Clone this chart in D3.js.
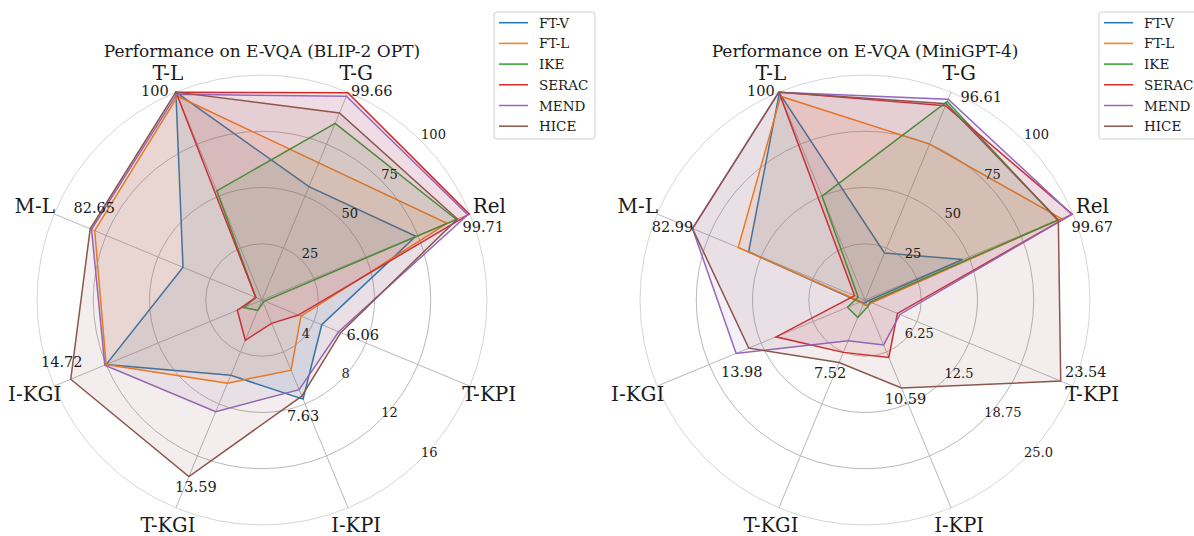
<!DOCTYPE html>
<html>
<head>
<meta charset="utf-8">
<script src="https://cdnjs.cloudflare.com/ajax/libs/d3/7.8.5/d3.min.js"></script>
<style>
  body { margin: 0; background: #fff; }
  svg text { font-family: "DejaVu Serif", serif; fill: #1a1a1a; }
</style>
</head>
<body>
<svg id="chart" width="1194" height="536"></svg>
<script>
// axes, clockwise starting at T-L
const axes = ["T-L", "T-G", "Rel", "T-KPI", "I-KPI", "T-KGI", "I-KGI", "M-L"];
// which radial scale each axis uses (percent axes vs. the small KPI/KGI axes)
const axisKind = ["pct", "pct", "pct", "small", "small", "small", "small", "pct"];
const methods = ["FT-V", "FT-L", "IKE", "SERAC", "MEND", "HICE"];
const colors = ["#1f77b4", "#ff7f0e", "#2ca02c", "#d62728", "#9467bd", "#8c564b"];

// E-VQA (BLIP-2 OPT)
const blipFTV   = [100, 54.5, 74, 4.6, 7.63, 5.8, 12.0, 38];
const blipFTL   = [98, 66, 89, 3.0, 5.4, 6.4, 12.0, 80.5];
const blipIKE   = [52.5, 85, 93.5, 0.2, 0.2, 0.8, 1.4, 3];
const blipSERAC = [100, 99.66, 99.71, 2.8, 1.8, 3.1, 1.9, 3];
const blipMEND  = [99, 98, 99, 5.9, 6.9, 8.6, 12.1, 82];
const blipHICE  = [100, 90, 94, 6.06, 7.4, 13.59, 14.72, 82.65];
const blipValueLabels = ["100", "99.66", "99.71", "6.06", "7.63", "13.59", "14.72", "82.65"];
const blipSmallTicks = ["4", "8", "12", "16"];

// E-VQA (MiniGPT-4)
const miniFTV   = [99.5, 22.6, 47, 0.3, 0.3, 0.4, 0.6, 56];
const miniFTL   = [98, 75, 94.5, 0.8, 0.7, 0.5, 0.5, 61];
const miniIKE   = [50, 95.5, 92.7, 0.6, 0.8, 2.1, 2.1, 3.3];
const miniSERAC = [100, 93.5, 99.67, 3.9, 6.9, 6.3, 10.7, 5];
const miniMEND  = [100, 96.61, 99.5, 4.2, 5.4, 4.9, 15.5, 83];
const miniHICE  = [100, 94.4, 93, 23.54, 10.59, 7.52, 13.98, 82.99];
const miniValueLabels = ["100", "96.61", "99.67", "23.54", "10.59", "7.52", "13.98", "82.99"];
const miniSmallTicks = ["6.25", "12.5", "18.75", "25.0"];

const pctTicks = ["25", "50", "75", "100"];

const R = 225;
const svg = d3.select("#chart");

function drawRadar(cfg) {
  const g = svg.append("g").attr("transform", `translate(${cfg.cx},${cfg.cy})`);
  const angle = d3.scaleLinear().domain([0, axes.length]).range([-Math.PI / 8, 2 * Math.PI - Math.PI / 8]);
  const rPct = d3.scaleLinear().domain([0, 100]).range([0, R]);
  const rSmall = d3.scaleLinear().domain([0, +cfg.smallTicks[cfg.smallTicks.length - 1]]).range([0, R]);
  const radius = (i, v) => axisKind[i] === "pct" ? rPct(v) : rSmall(v);
  const pt = (i, r) => [r * Math.sin(angle(i)), -r * Math.cos(angle(i))];

  // rings
  pctTicks.forEach((t, k) => {
    const last = k === pctTicks.length - 1;
    g.append("circle").attr("r", rPct(+t)).attr("fill", "none")
      .attr("stroke", last ? "#d6d6d6" : "#b8b8b8").attr("stroke-width", 1);
  });
  // spokes
  axes.forEach((a, i) => {
    const [x, y] = pt(i, R);
    g.append("line").attr("x1", 0).attr("y1", 0).attr("x2", x).attr("y2", y)
      .attr("stroke", "#b8b8b8").attr("stroke-width", 1);
  });

  // series
  const line = d3.lineRadial()
    .angle((d, i) => angle(i))
    .radius((d, i) => radius(i, d))
    .curve(d3.curveLinearClosed);
  cfg.series.forEach((s, j) => {
    g.append("path").attr("d", line(s))
      .attr("fill", colors[j]).attr("fill-opacity", 0.1)
      .attr("stroke", colors[j]).attr("stroke-width", 1.5).attr("stroke-linejoin", "miter");
  });

  // ring labels
  const d45 = Math.SQRT1_2;
  pctTicks.forEach(t => {
    const r = rPct(+t);
    g.append("text").attr("x", r * d45).attr("y", -r * d45 - 2)
      .attr("font-size", 13).text(t);
  });
  cfg.smallTicks.forEach(t => {
    const r = rSmall(+t);
    g.append("text").attr("x", r * d45).attr("y", r * d45 - 2)
      .attr("font-size", 13).text(t);
  });

  // axis names (the bottom two sit on the page edge, so they get a baseline that fits)
  axes.forEach((a, i) => {
    const [x, y] = pt(i, 246);
    const bottom = y > 200;
    g.append("text").attr("x", x).attr("y", bottom ? 531.5 - cfg.cy : y)
      .attr("text-anchor", "middle")
      .attr("dominant-baseline", bottom ? "auto" : "central")
      .attr("font-size", bottom ? 19.5 : 20).text(a);
  });

  // value annotations
  cfg.valueLabels.forEach((t, i) => {
    const [x, y] = pt(i, radius(i, +t));
    const [ox, oy] = cfg.labelOffsets[i];
    g.append("text").attr("x", x + ox).attr("y", y + oy)
      .attr("text-anchor", "middle").attr("dominant-baseline", "central")
      .attr("font-size", 14.5).text(t);
  });

  // title
  g.append("text").attr("x", 0).attr("y", -249)
    .attr("text-anchor", "middle").attr("dominant-baseline", "central")
    .attr("font-size", 17).text(cfg.title);

  // legend
  const lg = g.append("g").attr("transform", `translate(${cfg.legendX},${12 - cfg.cy})`);
  lg.append("rect").attr("width", 101).attr("height", 127).attr("rx", 3)
    .attr("fill", "#fff").attr("fill-opacity", 0.8)
    .attr("stroke", "#d0d0d0").attr("stroke-width", 1);
  methods.forEach((m, j) => {
    const y = 10.7 + j * 20.7;
    lg.append("line").attr("x1", 5).attr("x2", 34).attr("y1", y).attr("y2", y)
      .attr("stroke", colors[j]).attr("stroke-width", 1.5);
    lg.append("text").attr("x", 45).attr("y", y).attr("dominant-baseline", "central")
      .attr("font-size", 13.5).text(m);
  });
}

drawRadar({
  cx: 262, cy: 300, legendX: 232,
  title: "Performance on E-VQA (BLIP-2 OPT)",
  series: [blipFTV, blipFTL, blipIKE, blipSERAC, blipMEND, blipHICE],
  valueLabels: blipValueLabels,
  smallTicks: blipSmallTicks,
  labelOffsets: [[-21, -1], [24, -2], [14, 13], [22, 2], [0, 17], [7, 10], [-9, -17], [4, -21]]
});

drawRadar({
  cx: 865, cy: 300, legendX: 234,
  title: "Performance on E-VQA (MiniGPT-4)",
  series: [miniFTV, miniFTL, miniIKE, miniSERAC, miniMEND, miniHICE],
  valueLabels: miniValueLabels,
  smallTicks: miniSmallTicks,
  labelOffsets: [[-18, -1], [33, -2], [20, 13], [25, -9], [4, 11], [-9, 10], [-7, 24], [-20, -2]]
});
</script>
</body>
</html>
